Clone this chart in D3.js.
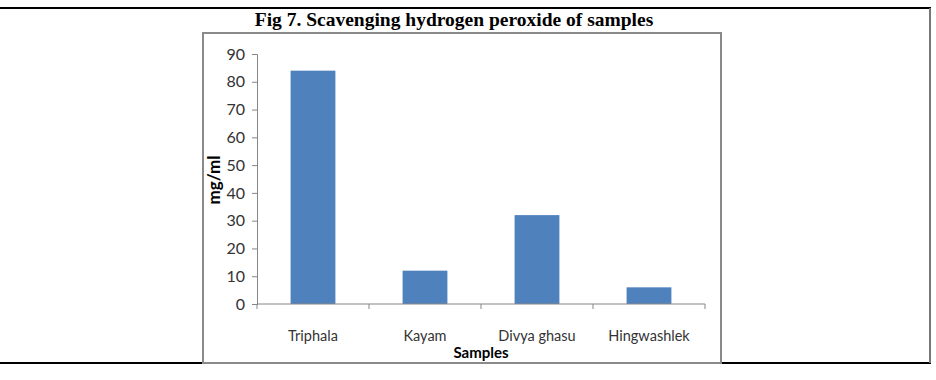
<!DOCTYPE html>
<html>
<head>
<meta charset="utf-8">
<script src="https://cdn.jsdelivr.net/npm/d3@7"></script>
<style>
  body { margin: 0; background: #fff; }
  svg { display: block; }
</style>
</head>
<body>
<div id="chart"></div>
<script>
const categories = ["Triphala", "Kayam", "Divya ghasu", "Hingwashlek"];
const values = [84, 12, 32, 6];
const yTicks = [0, 10, 20, 30, 40, 50, 60, 70, 80, 90];
const titleText = "Fig 7. Scavenging hydrogen peroxide of samples";

const W = 936, H = 380;
const plot = { left: 257, right: 705, top: 54, bottom: 304 };

const svg = d3.select("#chart").append("svg")
    .attr("width", W)
    .attr("height", H);

// table frame lines
svg.append("line")
    .attr("x1", 0).attr("x2", 931).attr("y1", 8).attr("y2", 8)
    .attr("stroke", "#000").attr("stroke-width", 2);
svg.append("line")
    .attr("x1", 0).attr("x2", 931).attr("y1", 363).attr("y2", 363)
    .attr("stroke", "#000").attr("stroke-width", 2);
svg.append("line")
    .attr("x1", 930).attr("x2", 930).attr("y1", 8).attr("y2", 363)
    .attr("stroke", "#777").attr("stroke-width", 2);

// title
svg.append("text")
    .attr("x", 454).attr("y", 26)
    .attr("text-anchor", "middle")
    .attr("font-family", "Liberation Serif, Times New Roman, serif")
    .attr("font-weight", "bold")
    .attr("font-size", 19.5)
    .attr("fill", "#000")
    .text(titleText);

// chart box
svg.append("rect")
    .attr("x", 203).attr("y", 33)
    .attr("width", 518).attr("height", 330)
    .attr("fill", "none")
    .attr("stroke", "#8a8a8a")
    .attr("stroke-width", 2);

// scales
const x = d3.scaleBand()
    .domain(categories)
    .range([plot.left, plot.right])
    .paddingInner(0.6)
    .paddingOuter(0.3);

const xEdge = d3.scaleLinear()
    .domain([0, categories.length])
    .range([plot.left, plot.right]);

const y = d3.scaleLinear()
    .domain([0, 90])
    .range([plot.bottom, plot.top]);

const axisFont = "Lato, 'Open Sans', sans-serif";

// y axis
const yAxis = svg.append("g")
    .attr("transform", `translate(${plot.left},0)`)
    .call(d3.axisLeft(y).tickValues(yTicks).tickSize(5).tickPadding(7));
yAxis.select(".domain").attr("stroke", "#868686");
yAxis.selectAll(".tick line").attr("stroke", "#868686");
yAxis.selectAll(".tick text")
    .attr("font-family", axisFont)
    .attr("font-size", 16)
    .attr("fill", "#333");

// bars
svg.selectAll("rect.bar")
    .data(values)
    .enter()
    .append("rect")
    .attr("class", "bar")
    .attr("x", (d, i) => x(categories[i]))
    .attr("width", x.bandwidth())
    .attr("y", d => y(d))
    .attr("height", d => y(0) - y(d))
    .attr("fill", "#4f81bd");

// x axis line with boundary ticks
const xAxis = svg.append("g");
xAxis.append("line")
    .attr("x1", plot.left).attr("x2", plot.right)
    .attr("y1", y(0)).attr("y2", y(0))
    .attr("stroke", "#868686");
xAxis.selectAll("line.tick")
    .data(d3.range(categories.length + 1))
    .enter()
    .append("line")
    .attr("class", "tick")
    .attr("x1", d => xEdge(d)).attr("x2", d => xEdge(d))
    .attr("y1", y(0)).attr("y2", y(0) + 5)
    .attr("stroke", "#868686");
xAxis.selectAll("text")
    .data(categories)
    .enter()
    .append("text")
    .attr("x", d => x(d) + x.bandwidth() / 2)
    .attr("y", 341)
    .attr("text-anchor", "middle")
    .attr("font-family", axisFont)
    .attr("font-size", 14.5)
    .attr("fill", "#333")
    .text(d => d);

// axis titles
svg.append("text")
    .attr("x", 481).attr("y", 358)
    .attr("text-anchor", "middle")
    .attr("font-family", axisFont)
    .attr("font-weight", "bold")
    .attr("font-size", 15)
    .attr("fill", "#000")
    .text("Samples");

svg.append("text")
    .attr("transform", "translate(220,180) rotate(-90)")
    .attr("text-anchor", "middle")
    .attr("font-family", axisFont)
    .attr("font-weight", "bold")
    .attr("font-size", 17)
    .attr("fill", "#000")
    .text("mg/ml");
</script>
</body>
</html>
